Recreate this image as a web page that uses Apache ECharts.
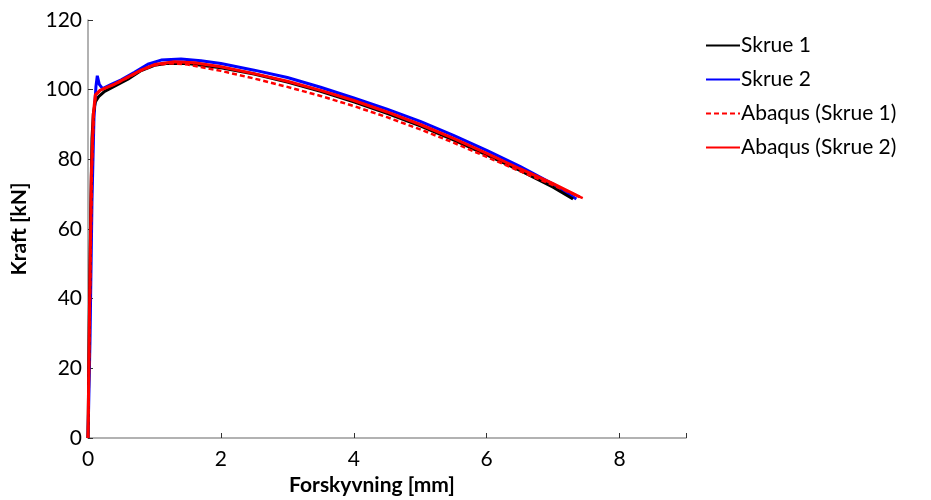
<!DOCTYPE html>
<html>
<head>
<meta charset="utf-8">
<script src="https://cdn.jsdelivr.net/npm/echarts@6/dist/echarts.min.js"></script>
<style>
  html, body { margin: 0; padding: 0; background: #fff; }
  #main { width: 931px; height: 500px; }
</style>
</head>
<body>
<div id="main"></div>
<script>
// forskyvning [mm], kraft [kN]
var skrue1 = [[0, 0], [0.02, 35], [0.04, 65], [0.06, 86], [0.08, 93], [0.11, 96.5], [0.16, 98], [0.25, 99.5],
  [0.4, 101], [0.6, 103], [0.8, 105.5], [1.0, 107], [1.2, 107.6], [1.5, 107.5], [2.0, 106.3], [2.5, 104.5],
  [3.0, 102.2], [3.5, 99.5], [4.0, 96.5], [4.5, 93.2], [5.0, 89.6], [5.5, 85.6], [6.0, 81.3], [6.5, 76.8],
  [7.0, 72], [7.3, 68.6]];
var skrue2 = [[0, 0], [0.03, 28], [0.06, 68], [0.09, 92], [0.12, 101], [0.14, 104], [0.17, 101.5], [0.22, 100.3],
  [0.35, 101.5], [0.5, 102.8], [0.7, 105], [0.9, 107.3], [1.1, 108.5], [1.4, 108.8], [1.7, 108.3], [2.0, 107.5],
  [2.5, 105.6], [3.0, 103.5], [3.5, 100.7], [4.0, 97.6], [4.5, 94.4], [5.0, 90.9], [5.5, 86.9], [6.0, 82.6],
  [6.5, 78], [7.0, 72.9], [7.35, 68.6]];
var abaqus1 = [[0, 0], [0.03, 40], [0.06, 78], [0.09, 94], [0.12, 98.5], [0.2, 100], [0.4, 101.5], [0.6, 103.5],
  [0.8, 105.5], [1.0, 107], [1.25, 107.6], [1.5, 107.2], [2.0, 105.4], [2.5, 103.2], [3.0, 100.8], [3.5, 98.2],
  [4.0, 95.3], [4.5, 92.1], [5.0, 88.6], [5.5, 84.8], [6.0, 80.7], [6.5, 76.6], [7.0, 72.6], [7.45, 68.8]];
var abaqus2 = [[0, 0], [0.025, 40], [0.05, 75], [0.08, 93], [0.11, 98.5], [0.18, 99.8], [0.4, 101.6], [0.6, 103.6],
  [0.8, 105.6], [1.0, 107.2], [1.3, 108], [1.6, 107.7], [2.0, 106.6], [2.5, 104.6], [3.0, 102.4], [3.5, 99.8],
  [4.0, 96.9], [4.5, 93.6], [5.0, 90], [5.5, 86], [6.0, 81.7], [6.5, 77.3], [7.0, 73], [7.4, 69.2]];
var seriesNames = ['Skrue 1', 'Skrue 2', 'Abaqus (Skrue 1)', 'Abaqus (Skrue 2)'];

var myChart = echarts.init(document.getElementById('main'));
var font = 'Lato, "Open Sans", sans-serif';
myChart.setOption({
  animation: false,
  textStyle: { fontFamily: font },
  grid: { left: 88, right: 245, top: 20, bottom: 62, outerBoundsMode: 'none' },
  legend: {
    orient: 'vertical',
    left: 700,
    top: 30,
    itemWidth: 34,
    itemHeight: 14,
    itemGap: 13,
    itemStyle: { opacity: 0 },
    textStyle: { fontSize: 21, color: '#000', fontFamily: font, padding: [0, 0, 0, -4] },
    data: seriesNames
  },
  xAxis: {
    type: 'value',
    min: 0, max: 9, interval: 2,
    name: 'Forskyvning [mm]',
    nameLocation: 'middle',
    nameGap: 36,
    nameTextStyle: { fontSize: 21, fontWeight: 'bold', color: '#000', fontFamily: font, padding: [0, 30, 0, 0] },
    axisLine: { lineStyle: { color: '#999', width: 1.5 } },
    axisTick: { inside: true, length: 5, lineStyle: { color: '#333' } },
    axisLabel: { fontSize: 21, color: '#000', margin: 11,
      formatter: function (v) { return v > 8 ? '' : v; } },
    splitLine: { show: false }
  },
  yAxis: {
    type: 'value',
    min: 0, max: 120, interval: 20,
    name: 'Kraft [kN]',
    nameLocation: 'middle',
    nameGap: 58,
    nameTextStyle: { fontSize: 21, fontWeight: 'bold', color: '#000', fontFamily: font },
    axisLine: { show: true, lineStyle: { color: '#999', width: 1.5 } },
    axisTick: { show: true, inside: true, length: 5, lineStyle: { color: '#333' } },
    axisLabel: { fontSize: 21, color: '#000', margin: 6 },
    splitLine: { show: false }
  },
  series: [
    { name: seriesNames[0], type: 'line', data: skrue1, showSymbol: false, symbol: 'none',
      lineStyle: { color: '#000', width: 3 }, itemStyle: { color: '#000' }, z: 2 },
    { name: seriesNames[1], type: 'line', data: skrue2, showSymbol: false, symbol: 'none',
      lineStyle: { color: '#0000ff', width: 3 }, itemStyle: { color: '#0000ff' }, z: 1 },
    { name: seriesNames[2], type: 'line', data: abaqus1, showSymbol: false, symbol: 'none',
      lineStyle: { color: '#ff0000', width: 2.5, type: [5, 3] }, itemStyle: { color: '#ff0000' }, z: 3 },
    { name: seriesNames[3], type: 'line', data: abaqus2, showSymbol: false, symbol: 'none',
      lineStyle: { color: '#ff0000', width: 3 }, itemStyle: { color: '#ff0000' }, z: 4 }
  ]
});
</script>
</body>
</html>
